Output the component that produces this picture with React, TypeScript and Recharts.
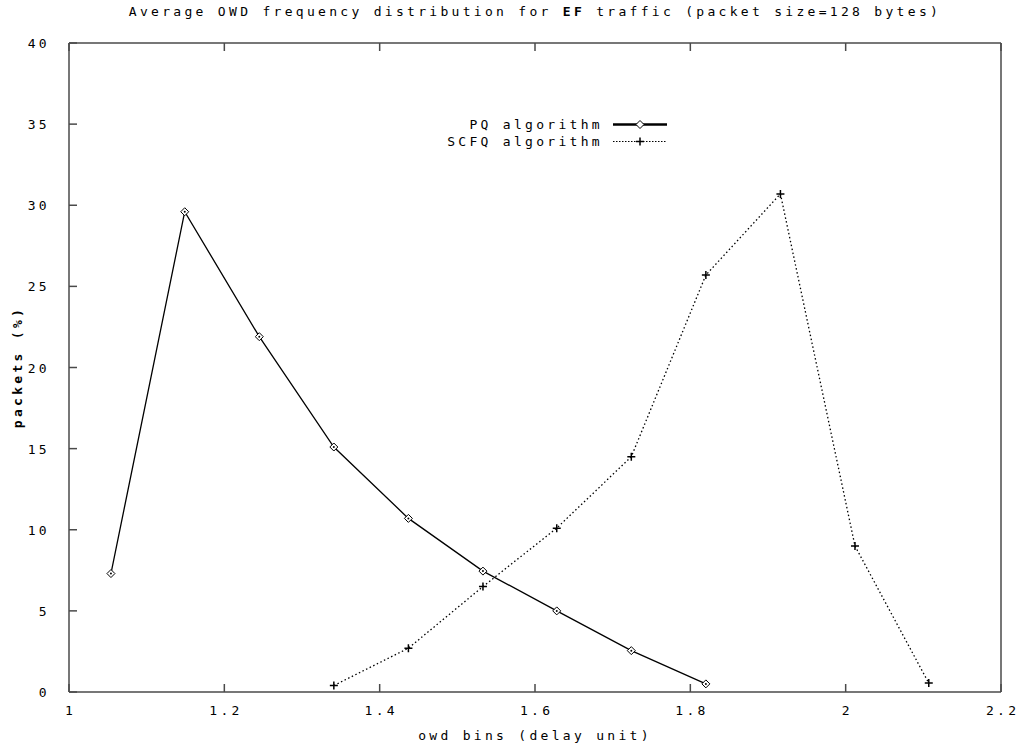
import { LineChart, Line, XAxis, YAxis } from "recharts";

// owd bin centres (delay unit)
const bins = [1.054, 1.149, 1.245, 1.341, 1.437, 1.533, 1.628, 1.724, 1.82, 1.916, 2.012, 2.107];
// packets (%) per bin
const pqValues = [7.3, 29.6, 21.9, 15.1, 10.7, 7.45, 5.0, 2.55, 0.5, null, null, null];
const scfqValues = [null, null, null, 0.4, 2.7, 6.5, 10.1, 14.5, 25.7, 30.7, 9.0, 0.55];

const xTicks = [1, 1.2, 1.4, 1.6, 1.8, 2, 2.2];
const yTicks = [0, 5, 10, 15, 20, 25, 30, 35, 40];

const data = bins.map((b, i) => ({ bin: b, pq: pqValues[i], scfq: scfqValues[i] }));

const FONT = "'DejaVu Sans Mono', 'Liberation Mono', monospace";
const FRAME = "#4a4a4a";
const LS = 3.3;

const textStyle = { fontFamily: FONT, fontSize: 13, letterSpacing: LS, fill: "#000" };

function BottomTick(props: any) {
  const { x, y, payload } = props;
  return (
    <g>
      <line x1={x} x2={x} y1={y} y2={y - 8} stroke={FRAME} strokeWidth={1.5} />
      <text x={x + LS / 2} y={y + 23} textAnchor="middle" style={textStyle}>
        {payload.value}
      </text>
    </g>
  );
}

function TopTick(props: any) {
  const { x, y } = props;
  return <line x1={x} x2={x} y1={y} y2={y + 8} stroke={FRAME} strokeWidth={1.5} />;
}

function LeftTick(props: any) {
  const { x, y, payload } = props;
  return (
    <g>
      <line x1={x} x2={x + 8} y1={y} y2={y} stroke={FRAME} strokeWidth={1.5} />
      <text x={x - 19} y={y + 5} textAnchor="end" style={textStyle}>
        {payload.value}
      </text>
    </g>
  );
}

function RightTick(props: any) {
  const { x, y } = props;
  return <line x1={x} x2={x - 8} y1={y} y2={y} stroke={FRAME} strokeWidth={1.5} />;
}

function Diamond(props: any) {
  const { cx, cy, value } = props;
  if (value == null || cx == null || cy == null) return <g />;
  return (
    <g>
      <path d={`M${cx},${cy - 4}L${cx + 4},${cy}L${cx},${cy + 4}L${cx - 4},${cy}Z`} fill="#fff" stroke="#000" strokeWidth={1} />
      <circle cx={cx} cy={cy} r={1} fill="#000" />
    </g>
  );
}

function Plus(props: any) {
  const { cx, cy, value } = props;
  if (value == null || cx == null || cy == null) return <g />;
  return (
    <path d={`M${cx - 4},${cy}H${cx + 4}M${cx},${cy - 4}V${cy + 4}`} stroke="#000" strokeWidth={1.5} />
  );
}

const overlayText: any = {
  position: "absolute",
  fontFamily: FONT,
  fontSize: 13,
  letterSpacing: LS,
  color: "#000",
  whiteSpace: "nowrap",
  lineHeight: "16px",
};

export default function App() {
  return (
    <div style={{ position: "absolute", left: 0, top: 0, width: 1022, height: 749, background: "#fff" }}>
      <LineChart width={1022} height={749} data={data} margin={{ top: 42, right: 20, bottom: 56, left: 68 }}>
        <XAxis
          xAxisId="bottom"
          dataKey="bin"
          type="number"
          domain={[1, 2.2]}
          ticks={xTicks}
          height={1}
          tickSize={0}
          tickMargin={0}
          tickLine={false}
          axisLine={{ stroke: FRAME, strokeWidth: 1.5 }}
          tick={<BottomTick />}
          interval={0}
        />
        <XAxis
          xAxisId="top"
          orientation="top"
          dataKey="bin"
          type="number"
          domain={[1, 2.2]}
          ticks={xTicks}
          height={1}
          tickSize={0}
          tickMargin={0}
          tickLine={false}
          axisLine={{ stroke: FRAME, strokeWidth: 1.5 }}
          tick={<TopTick />}
          interval={0}
        />
        <YAxis
          yAxisId="left"
          type="number"
          domain={[0, 40]}
          ticks={yTicks}
          width={1}
          tickSize={0}
          tickMargin={0}
          tickLine={false}
          axisLine={{ stroke: FRAME, strokeWidth: 1.5 }}
          tick={<LeftTick />}
          interval={0}
        />
        <YAxis
          yAxisId="right"
          orientation="right"
          type="number"
          domain={[0, 40]}
          ticks={yTicks}
          width={1}
          tickSize={0}
          tickMargin={0}
          tickLine={false}
          axisLine={{ stroke: FRAME, strokeWidth: 1.5 }}
          tick={<RightTick />}
          interval={0}
        />
        <Line
          xAxisId="bottom"
          yAxisId="left"
          type="linear"
          dataKey="pq"
          stroke="#000"
          strokeWidth={1.3}
          dot={<Diamond />}
          activeDot={false}
          isAnimationActive={false}
        />
        <Line
          xAxisId="bottom"
          yAxisId="left"
          type="linear"
          dataKey="scfq"
          stroke="#000"
          strokeWidth={1.3}
          strokeDasharray="1.5 2.5"
          dot={<Plus />}
          activeDot={false}
          isAnimationActive={false}
        />
      </LineChart>

      <div style={{ ...overlayText, left: 69, width: 932, top: 4, textAlign: "center" }}>
        Average OWD frequency distribution for <b>EF</b> traffic (packet size=128 bytes)
      </div>
      <div style={{ ...overlayText, left: 69, width: 932, top: 728, textAlign: "center" }}>
        owd bins (delay unit)
      </div>
      <div
        style={{
          ...overlayText,
          left: 18,
          top: 367,
          fontWeight: "bold",
          transform: "translate(-50%, -50%) rotate(-90deg)",
        }}
      >
        packets (%)
      </div>

      <div style={{ position: "absolute", left: 400, top: 116, width: 270 }}>
        <div style={{ display: "flex", alignItems: "center", height: 17 }}>
          <span style={{ ...overlayText, position: "static", width: 203, textAlign: "right" }}>PQ algorithm</span>
          <svg width={58} height={17} style={{ marginLeft: 8 }}>
            <line x1={2} x2={56} y1={8.5} y2={8.5} stroke="#000" strokeWidth={2.5} />
            <path d="M29,4.5L33,8.5L29,12.5L25,8.5Z" fill="#fff" stroke="#000" strokeWidth={1} />
          </svg>
        </div>
        <div style={{ display: "flex", alignItems: "center", height: 17 }}>
          <span style={{ ...overlayText, position: "static", width: 203, textAlign: "right" }}>SCFQ algorithm</span>
          <svg width={58} height={17} style={{ marginLeft: 8 }}>
            <line x1={2} x2={56} y1={8.5} y2={8.5} stroke="#000" strokeWidth={1} strokeDasharray="1.5 1.5" />
            <path d="M25,8.5H33M29,4.5V12.5" stroke="#000" strokeWidth={1.5} />
          </svg>
        </div>
      </div>
    </div>
  );
}
